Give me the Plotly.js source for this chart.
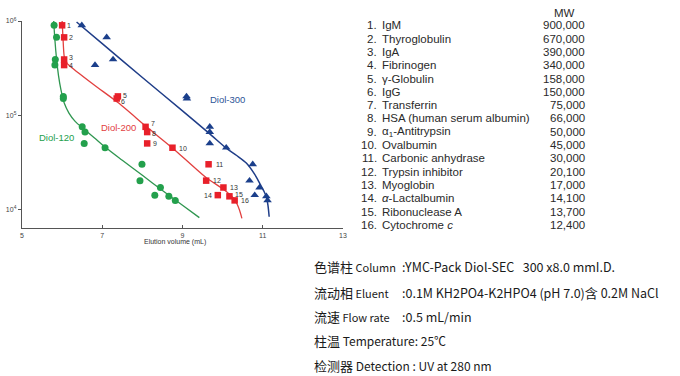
<!DOCTYPE html>
<html>
<head>
<meta charset="utf-8">
<script src="https://cdn.plot.ly/plotly-3.0.1.min.js"></script>
<style>html,body{margin:0;padding:0;background:#fff;}#chart{width:680px;height:376px;}</style>
</head>
<body>
<div id="chart"></div>
<script>
// ---- data ----
const proteinNames = ["IgM", "Thyroglobulin", "IgA", "Fibrinogen", "γ-Globulin", "IgG", "Transferrin",
  "HSA (human serum albumin)", "α<sub>1</sub>-Antitrypsin", "Ovalbumin", "Carbonic anhydrase",
  "Trypsin inhibitor", "Myoglobin", "<i>α</i>-Lactalbumin", "Ribonuclease A", "Cytochrome <i>c</i>"];
const mw = [900000, 670000, 390000, 340000, 158000, 150000, 75000, 66000, 50000, 45000, 30000, 20100, 17000, 14100, 13700, 12400];
const elution120 = [5.80, 5.86, 5.83, 5.82, 6.03, 6.03, 6.50, 6.57, 6.55, 7.07, 7.99, 7.94, 8.45, 8.31, 8.66, 8.82];
const elution200 = [6.00, 6.05, 6.05, 6.05, 7.39, 7.36, 8.08, 8.12, 8.12, 8.75, 9.65, 9.59, 10.02, 9.88, 10.17, 10.30];
const elution300 = [6.49, 7.11, 7.27, 6.82, 9.10, 9.11, 9.68, 9.68, 9.68, 10.09, 10.75, 10.67, 10.92, 10.80, 11.09, 11.12];

// calibration curves
const fit120x = [5.79, 5.82, 5.86, 5.91, 5.97, 6.05, 6.17, 6.33, 6.52, 6.80, 7.10, 7.50, 8.00, 8.50, 9.00, 9.42];
const fit120y = [1000000, 631000, 398000, 263000, 186000, 135000, 105000, 85100, 72400, 57500, 44700, 33100, 22900, 15800, 11000, 8130];
const fit200x = [6.00, 6.02, 6.05, 6.10, 6.20, 6.80, 7.40, 8.12, 8.75, 9.60, 10.03, 10.30, 10.42, 10.48];
const fit200y = [1000000, 676000, 427000, 363000, 331000, 209000, 135000, 74100, 44700, 21400, 16200, 12600, 9800, 8000];
const fit300x = [6.36, 7.00, 8.00, 9.00, 9.68, 10.10, 10.35, 10.59, 10.80, 10.93, 11.03, 11.09, 11.13, 11.16];
const fit300y = [977000, 575000, 251000, 111000, 63100, 44200, 37200, 30900, 23400, 18600, 15500, 13500, 11000, 8320];

const xTickStart = 5, xTickStep = 2;
const yTicks = [10000, 100000, 1000000];
const yTickText = ["10<sup>4</sup>", "10<sup>5</sup>", "10<sup>6</sup>"];
const seriesNames = ["Diol-120", "Diol-200", "Diol-300"];

const condLabels = ["色谱柱 Column", "流动相 Eluent", "流速 Flow rate", "柱温 Temperature: 25℃", "检测器 Detection : UV at 280 nm"];
const condValues = [":YMC-Pack Diol-SEC&nbsp;&nbsp;&nbsp;300 x8.0 mmI.D.", ":0.1M KH2PO4-K2HPO4 (pH 7.0)含 0.2M NaCl", ":0.5 mL/min", "", ""];

// ---- styling ----
const GREEN = "#23a04c", RED = "#e8202a", BLUE = "#1b3f8b";
const GREEN_L = "#2f9650", RED_L = "#e2403f", BLUE_L = "#1f3d88";

// plot area in pixels
const L = 22, R = 343.3, T = 20.7, B = 228;
const W = R - L, H = B - T;
const px = x => (x - L) / W;
const py = y => (B - y) / H;

const traces = [
  {x: fit120x, y: fit120y, mode: "lines", line: {color: GREEN_L, width: 1.3, shape: "spline", smoothing: 0.8}, hoverinfo: "skip", showlegend: false},
  {x: fit200x, y: fit200y, mode: "lines", line: {color: RED_L, width: 1.3, shape: "spline", smoothing: 0.6}, hoverinfo: "skip", showlegend: false},
  {x: fit300x, y: fit300y, mode: "lines", line: {color: BLUE_L, width: 1.5, shape: "spline", smoothing: 0.8}, hoverinfo: "skip", showlegend: false},
  {x: elution120, y: mw, name: seriesNames[0], mode: "markers", marker: {symbol: "circle", size: 7, color: GREEN}, showlegend: false},
  {x: elution200, y: mw, name: seriesNames[1], mode: "markers", marker: {symbol: "square", size: 6.5, color: RED}, showlegend: false},
  {x: elution300, y: mw, name: seriesNames[2], mode: "markers", marker: {symbol: "triangle-up", size: 7.5, color: BLUE}, showlegend: false}
];

const annotations = [];
// number labels next to red squares (offset in pixels)
const labelDx = [7, 6.7, 6.7, 6.7, 7, 6.7, 7.3, 6.7, 8, 8.3, 9.3, 9.3, 8.3, -8, 7.7, 8.7];
const labelDy = [0, 0, -2, 0.7, -1, 2.7, -3.3, 1.3, 0, 0.7, 0, 0, 0, 0, -2.3, 0];
elution200.forEach((xv, i) => {
  annotations.push({x: xv, y: Math.log10(mw[i]), xref: "x", yref: "y", text: String(i + 1), showarrow: false,
    xanchor: labelDx[i] < 0 ? "right" : "left", yanchor: "middle",
    xshift: labelDx[i] < 0 ? labelDx[i] + 3 : labelDx[i] - 3, yshift: -labelDy[i],
    font: {family: "Liberation Sans, Arial, sans-serif", size: 7, color: "#333"}, borderpad: 0});
});
// series labels
const seriesLabelPos = [[57, 137], [119, 127], [228, 99]];
const seriesColors = [GREEN, RED_L, "#2c5597"];
seriesNames.forEach((n, i) => {
  annotations.push({x: px(seriesLabelPos[i][0]), y: py(seriesLabelPos[i][1]), xref: "paper", yref: "paper", text: n,
    showarrow: false, xanchor: "center", yanchor: "middle", borderpad: 0,
    font: {family: "Liberation Sans, Arial, sans-serif", size: 9.5, color: seriesColors[i]}});
});
// x axis title
annotations.push({x: px(175), y: py(242), xref: "paper", yref: "paper", text: "Elution volume (mL)", showarrow: false,
  xanchor: "center", yanchor: "middle", borderpad: 0, font: {family: "Liberation Sans, Arial, sans-serif", size: 7, color: "#333"}});

// MW table
const tFont = {family: "Liberation Sans, Arial, sans-serif", size: 11.5, color: "#2a2a2a"};
annotations.push({x: px(565), y: py(12.3), xref: "paper", yref: "paper", text: "MW", showarrow: false,
  xanchor: "center", yanchor: "middle", borderpad: 0, font: tFont});
proteinNames.forEach((n, i) => {
  const yy = py(25 + i * 13.33);
  annotations.push({x: px(378.5), y: yy, xref: "paper", yref: "paper", text: (i + 1) + ".", showarrow: false,
    xanchor: "right", yanchor: "middle", borderpad: 0, font: tFont});
  annotations.push({x: px(381.7), y: yy, xref: "paper", yref: "paper", text: n, showarrow: false,
    xanchor: "left", yanchor: "middle", borderpad: 0, font: tFont});
  annotations.push({x: px(587), y: yy, xref: "paper", yref: "paper", text: mw[i].toLocaleString("en-US"), showarrow: false,
    xanchor: "right", yanchor: "middle", borderpad: 0, font: tFont});
});

// conditions
const condY = [266.7, 292.7, 316.7, 340.7, 366];
const condLabelSize = [11, 11, 11, 12, 12];
const wrapCJK = s => s.replace(/([\u4e00-\u9fff]+)/g, '<span style="font-size:13px">$1</span>');
condLabels.forEach((lab, i) => {
  annotations.push({x: px(313), y: py(condY[i]), xref: "paper", yref: "paper", text: wrapCJK(lab), showarrow: false,
    xanchor: "left", yanchor: "middle", borderpad: 0,
    font: {family: "Noto Sans CJK SC, Noto Sans, sans-serif", size: condLabelSize[i], color: "#1a1a1a"}});
  if (condValues[i]) {
    annotations.push({x: px(401.7), y: py(condY[i]), xref: "paper", yref: "paper", text: wrapCJK(condValues[i]), showarrow: false,
      xanchor: "left", yanchor: "middle", borderpad: 0,
      font: {family: "Noto Sans CJK SC, Noto Sans, sans-serif", size: 12.5, color: "#1a1a1a"}});
  }
});

const axisFont = {family: "Liberation Sans, Arial, sans-serif", size: 7, color: "#444"};
const layout = {
  width: 680, height: 376,
  margin: {l: L, r: 680 - R, t: T, b: 376 - B, pad: 0},
  paper_bgcolor: "#fff", plot_bgcolor: "#fff",
  showlegend: false,
  xaxis: {range: [5, 13], tickmode: "linear", tick0: xTickStart, dtick: xTickStep, ticks: "inside", ticklen: 3, tickcolor: "#555",
    showline: true, linecolor: "#555", linewidth: 1.2, showgrid: false, zeroline: false, tickfont: axisFont},
  yaxis: {type: "log", range: [3.8, 6.0], tickmode: "array", tickvals: yTicks, ticktext: yTickText, ticks: "outside", ticklen: 3, tickcolor: "#555",
    showline: true, linecolor: "#555", linewidth: 1.2, showgrid: false, zeroline: false, tickfont: axisFont},
  annotations: annotations
};

Plotly.newPlot("chart", traces, layout, {displayModeBar: false, staticPlot: true});
</script>
</body>
</html>
